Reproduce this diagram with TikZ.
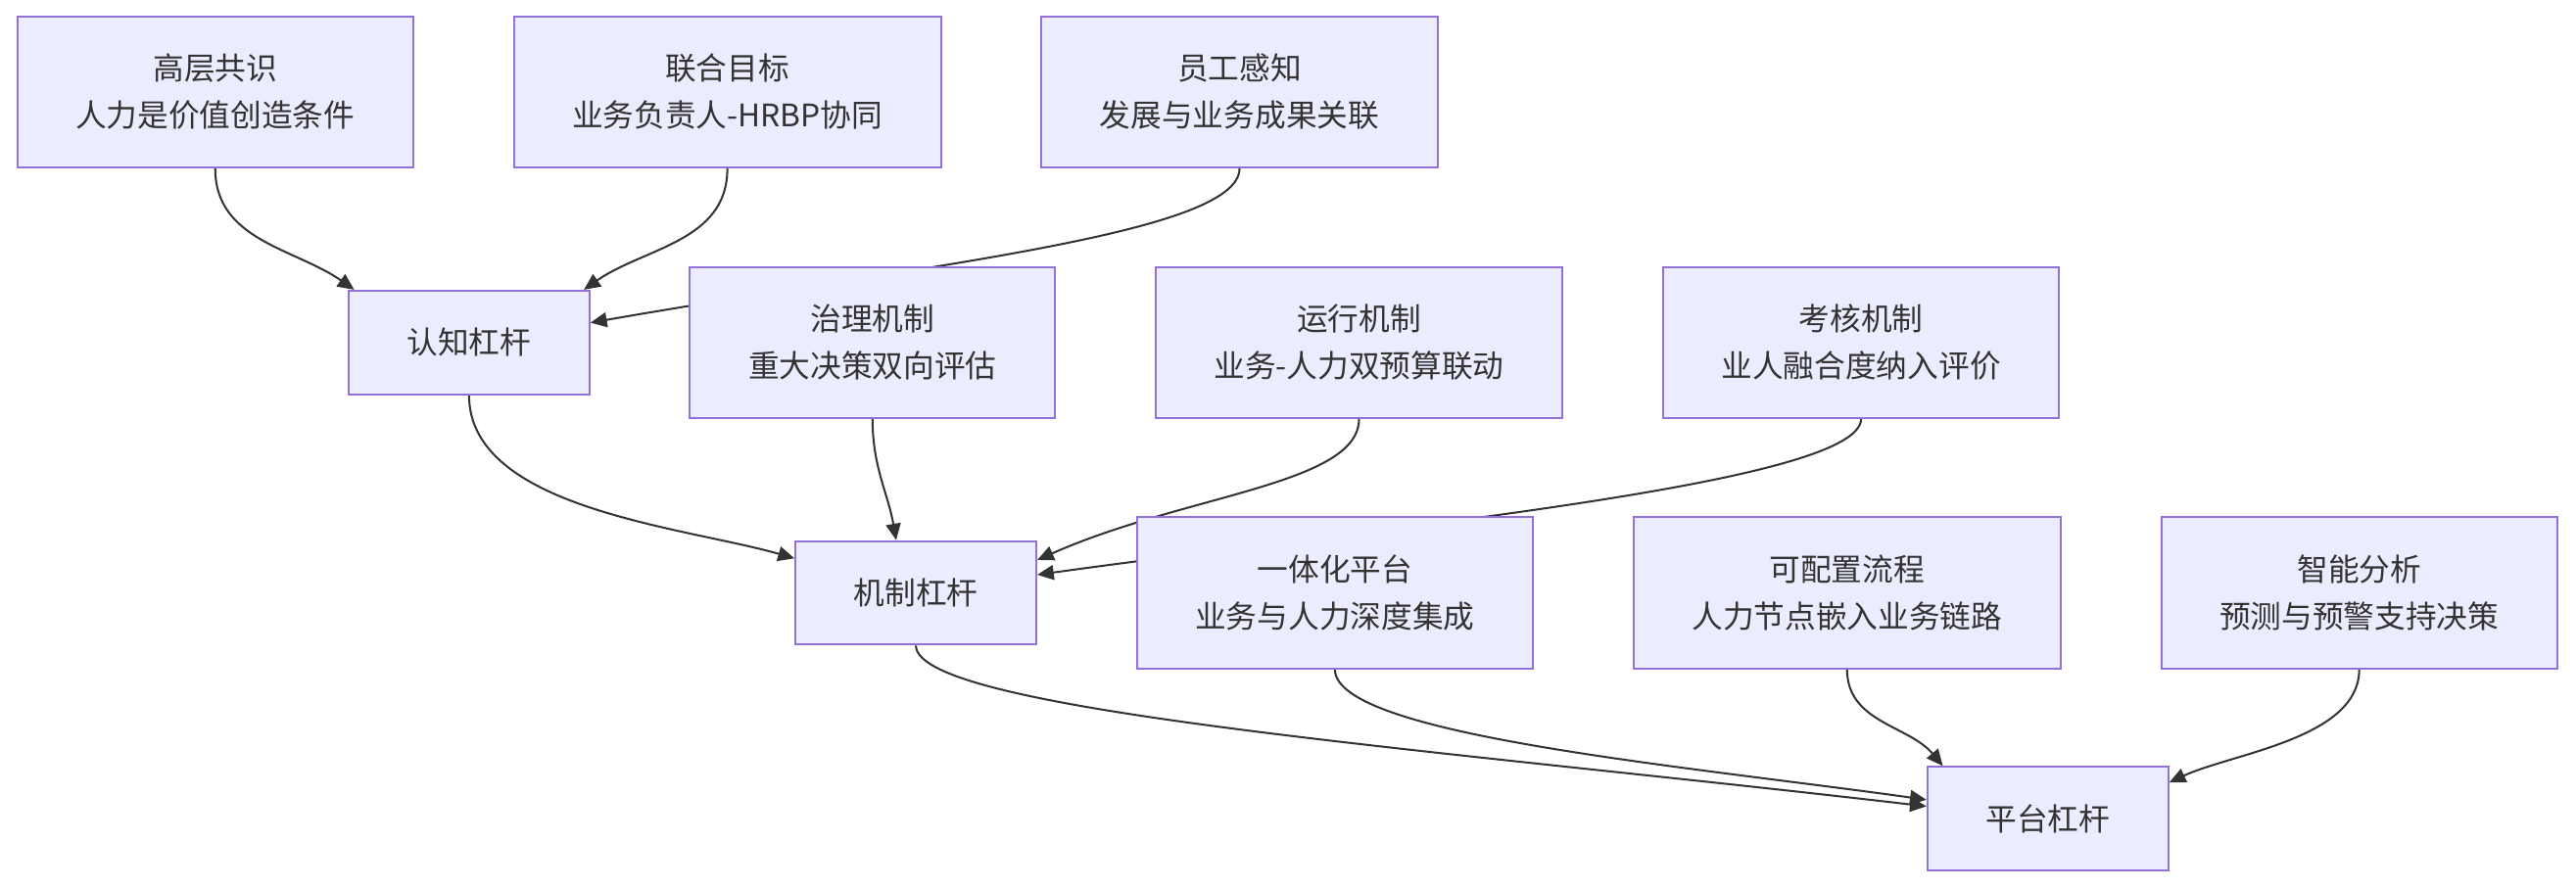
\documentclass[tikz,border=0pt]{standalone}
\usepackage{fontspec}
\setmainfont{Noto Sans CJK SC}
\usetikzlibrary{positioning,arrows.meta,backgrounds}
\definecolor{bxfill}{HTML}{ECECFF}
\definecolor{bxline}{HTML}{9370DB}
\definecolor{ink}{HTML}{333333}
\begin{document}
\begin{tikzpicture}[x=1pt,y=1pt]
\tikzstyle{bx}=[rectangle,draw=bxline,fill=bxfill,line width=1.2pt,text=ink,align=center,inner xsep=35.5pt,inner ysep=0pt,font=\fontsize{18.9}{28.6}\selectfont]
\tikzstyle{one}=[bx,minimum height=63pt]
\tikzstyle{two}=[bx,minimum height=92pt]
\tikzstyle{ar}=[draw=ink,line width=1.2pt,-{Triangle[length=10pt,width=9pt]}]
\useasboundingbox (0,0) rectangle (1568,541);
\node[two] (gc) at (131,485) {高层共识\\人力是价值创造条件};
\node[two,right=60pt of gc] (lh) {联合目标\\业务负责人-HRBP协同};
\node[two,right=60pt of lh] (yg) {员工感知\\发展与业务成果关联};
\node[one] (rz) at (285.5,332.5) {认知杠杆};
\node[two,right=60pt of rz] (zl) {治理机制\\重大决策双向评估};
\node[two,right=60pt of zl] (yx) {运行机制\\业务-人力双预算联动};
\node[two,right=60pt of yx] (kh) {考核机制\\业人融合度纳入评价};
\node[one] (jz) at (557.5,180) {机制杠杆};
\node[two,right=60pt of jz] (yt) {一体化平台\\业务与人力深度集成};
\node[two,right=60pt of yt] (pz) {可配置流程\\人力节点嵌入业务链路};
\node[two,right=60pt of pz] (zn) {智能分析\\预测与预警支持决策};
\node[one] (pt) at (1246.5,42.5) {平台杠杆};
\begin{pgfonlayer}{background}
\draw[ar] (gc) to[out=-90,in=145] ([xshift=4pt]rz.north west);
\draw[ar] (lh) to[out=-90,in=35] ([xshift=-4pt]rz.north east);
\draw[ar] (yg.south) .. controls +(0,-40) and +(200,35) .. ([yshift=12pt]rz.east);
\draw[ar] (rz) to[out=-90,in=164,looseness=0.8] ([yshift=21pt]jz.west);
\draw[ar] (zl) to[out=-90,in=100] ([xshift=-12pt]jz.north);
\draw[ar] (yx.south) .. controls +(0,-40) and +(90,40) .. ([yshift=20pt]jz.east);
\draw[ar] (kh.south) .. controls +(0,-40) and +(200,28) .. ([yshift=11pt]jz.east);
\draw[ar] (jz.south) .. controls +(0,-40) and +(-300,35) .. ([yshift=7.5pt]pt.west);
\draw[ar] (yt.south) .. controls +(0,-40) and +(-150,21) .. ([yshift=11.5pt]pt.west);
\draw[ar] (pz) to[out=-90,in=130] ([xshift=10pt]pt.north west);
\draw[ar] (zn) to[out=-90,in=25,looseness=0.8] ([yshift=22pt]pt.east);
\end{pgfonlayer}
\end{tikzpicture}
\end{document}
